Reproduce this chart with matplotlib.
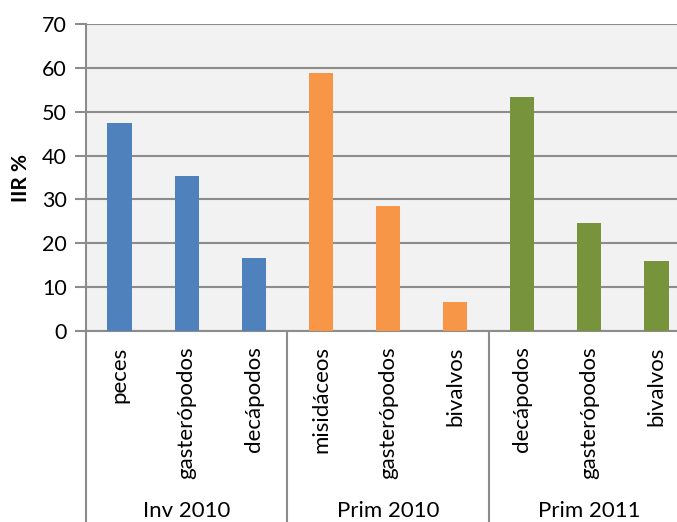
import matplotlib.pyplot as plt
import numpy as np

plt.rcParams['font.family'] = ['Lato', 'DejaVu Sans']

groups = ['Inv 2010', 'Prim 2010', 'Prim 2011']
categories = [['peces', 'gasterópodos', 'decápodos'],
              ['misidáceos', 'gasterópodos', 'bivalvos'],
              ['decápodos', 'gasterópodos', 'bivalvos']]
values = [[47.4, 35.3, 16.6],
          [58.9, 28.5, 6.6],
          [53.3, 24.6, 16.0]]
colors = ['#4F81BD', '#F79646', '#77933C']

fig = plt.figure(figsize=(6.77, 5.22), dpi=100)
# plot area runs past the right edge of the picture, like the original
ax = fig.add_axes([86/677, 1 - 331/522, 604/677, 307/522])
ax.set_facecolor('#F2F2F2')

x = 0
labels = []
for g, (cats, vals) in enumerate(zip(categories, values)):
    pos = np.arange(len(cats)) + x
    ax.bar(pos, vals, width=0.36, color=colors[g], zorder=3)
    labels += cats
    x += len(cats)

n = len(labels)
ax.set_xlim(-0.5, n - 0.5)
ax.set_ylim(0, 70)
ax.set_yticks(range(0, 71, 10))
ax.yaxis.grid(True, color='#8C8C8C', linewidth=1.5, zorder=1)
ax.tick_params(axis='y', length=8, width=1.5, color='#8C8C8C', labelsize=15.5, pad=6)
ax.set_xticks(range(n))
ax.set_xticklabels(labels, rotation=90, fontsize=16, va='top')
ax.tick_params(axis='x', length=0, pad=11)
for s in ['top', 'right']:
    ax.spines[s].set_visible(False)
ax.spines['left'].set_color('#8C8C8C')
ax.spines['left'].set_linewidth(1.5)
ax.spines['bottom'].set_color('#8C8C8C')
ax.spines['bottom'].set_linewidth(1.5)

ax.set_ylabel('IIR %', fontsize=15, fontweight='bold', labelpad=8)

# group separators and group labels below the axis
x = 0
for g, cats in enumerate(categories):
    ax.plot([x - 0.5, x - 0.5], [0, -45], color='#8C8C8C', lw=1.5,
            clip_on=False, transform=ax.transData)
    ax.text(x + (len(cats) - 1) / 2, -41.0, groups[g], ha='center', va='center',
            fontsize=16)
    x += len(cats)
ax.plot([x - 0.5, x - 0.5], [0, -45], color='#8C8C8C', lw=1.5, clip_on=False)

fig.savefig('out.png', dpi=100)
